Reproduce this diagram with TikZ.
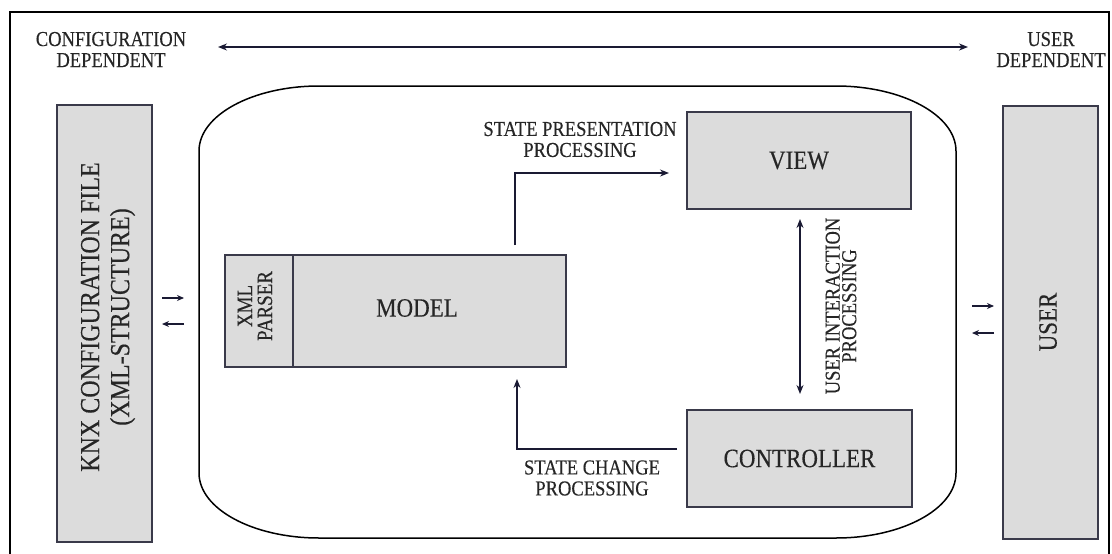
\documentclass[tikz,border=0pt]{standalone}
\usepackage{fontspec}
\setmainfont{Liberation Serif}[FakeStretch=0.87,FakeBold=0.25]
\usetikzlibrary{arrows.meta}
\definecolor{boxfill}{HTML}{DCDCDC}
\definecolor{boxline}{HTML}{3A3A4A}
\definecolor{inkdark}{HTML}{262626}
\definecolor{arrowink}{HTML}{1A1A33}
\tikzset{
  block/.style={draw=boxline, line width=1.5pt, fill=boxfill, inner sep=0pt,
    text=inkdark, font=\fontsize{26.4}{28}\selectfont},
  lbl/.style={text=inkdark, align=center, inner sep=0pt,
    font=\fontsize{21.3}{21}\selectfont},
  arr/.style={draw=arrowink, line width=1.4pt,
    -{Stealth[length=9pt,width=7pt]}},
  dblarr/.style={draw=arrowink, line width=1.4pt,
    {Stealth[length=9pt,width=7pt]}-{Stealth[length=9pt,width=7pt]}},
  smallarr/.style={draw=arrowink, line width=1.4pt,
    -{Stealth[length=7pt,width=6pt]}}
}
\begin{document}
\begin{tikzpicture}[x=1pt,y=-1pt]
\useasboundingbox (0,0) rectangle (1112,554);
\fill[white] (0,0) rectangle (1112,554);

% outer frame (open at the bottom)
\draw[line width=2pt, black] (10,554) -- (10,12) -- (1109,12) -- (1109,554);

% application boundary with soft corners
\draw[line width=1.5pt, black]
  (199,151) -- (199,473)
  .. controls (199,509) and (253,538) .. (319,538)
  -- (836,538)
  .. controls (902,538) and (956,509) .. (956,473)
  -- (956,151)
  .. controls (956,115) and (902,86) .. (836,86)
  -- (319,86)
  .. controls (253,86) and (199,115) .. (199,151) -- cycle;

% side blocks
\node[block, minimum width=95pt, minimum height=437pt] (knx) at (104.5,323.5) {};
\node[text=inkdark, align=center, rotate=90, inner sep=0pt,
  font=\fontsize{27.6}{30}\selectfont] (knxtext) at (108,317)
  {KNX CONFIGURATION FILE\\(XML-STRUCTURE)};
\node[block, minimum width=95pt, minimum height=433pt] (user) at (1050.5,322.5) {};
\node[text=inkdark, rotate=90, inner sep=0pt,
  font=\fontsize{26.4}{28}\selectfont] (usertext) at (1048,322) {USER};

% model with its XML parser
\node[block, minimum width=68pt, minimum height=112pt] (parser) at (259,311) {};
\node[text=inkdark, align=center, rotate=90, inner sep=0pt,
  font=\fontsize{21.8}{20}\selectfont] (parsertext) at (255,306) {XML\\PARSER};
\node[block, minimum width=273pt, minimum height=112pt] (model) at (429.5,311) {};
\node[text=inkdark, inner sep=0pt, font=\fontsize{26.4}{28}\selectfont]
  (modeltext) at (417,308) {MODEL};

% view and controller
\node[block, minimum width=224pt, minimum height=97pt] (view) at (799,160.5) {VIEW};
\node[block, minimum width=225pt, minimum height=97pt] (ctrl) at (799.5,458.5) {CONTROLLER};

% top scale
\node[lbl] (cfgdep) at (111,49.5) {CONFIGURATION\\DEPENDENT};
\node[lbl] (usrdep) at (1051,49.5) {USER\\DEPENDENT};
\coordinate (scaleL) at (218,47);
\coordinate (scaleR) at (968,47);
\draw[dblarr] (scaleL) -- (scaleR);

% exchange with the configuration file
\coordinate (kA) at (162,298);
\coordinate (kB) at (184,298);
\coordinate (kC) at (184,324);
\coordinate (kD) at (162,324);
\draw[smallarr] (kA) -- (kB);
\draw[smallarr] (kC) -- (kD);

% exchange with the user
\coordinate (uA) at (972,306);
\coordinate (uB) at (994,306);
\coordinate (uC) at (994,333);
\coordinate (uD) at (972,333);
\draw[smallarr] (uA) -- (uB);
\draw[smallarr] (uC) -- (uD);

% model -> view
\coordinate (sp0) at (515,245);
\coordinate (sp1) at (669,173);
\draw[arr] (sp0) |- (sp1);
\node[lbl] (sptext) at (580,139.5) {STATE PRESENTATION\\PROCESSING};

% controller -> model
\coordinate (sc0) at (677,449);
\coordinate (sc1) at (517,379);
\draw[arr] (sc0) -| (sc1);
\node[lbl] (sctext) at (592,478) {STATE CHANGE\\PROCESSING};

% view <-> controller
\coordinate (ui0) at (800,219);
\coordinate (ui1) at (800,394);
\draw[dblarr] (ui0) -- (ui1);
\node[lbl, rotate=90, font=\fontsize{21.3}{16.5}\selectfont] (uitext) at (841,306)
  {USER INTERACTION\\PROCESSING};
\end{tikzpicture}
\end{document}
